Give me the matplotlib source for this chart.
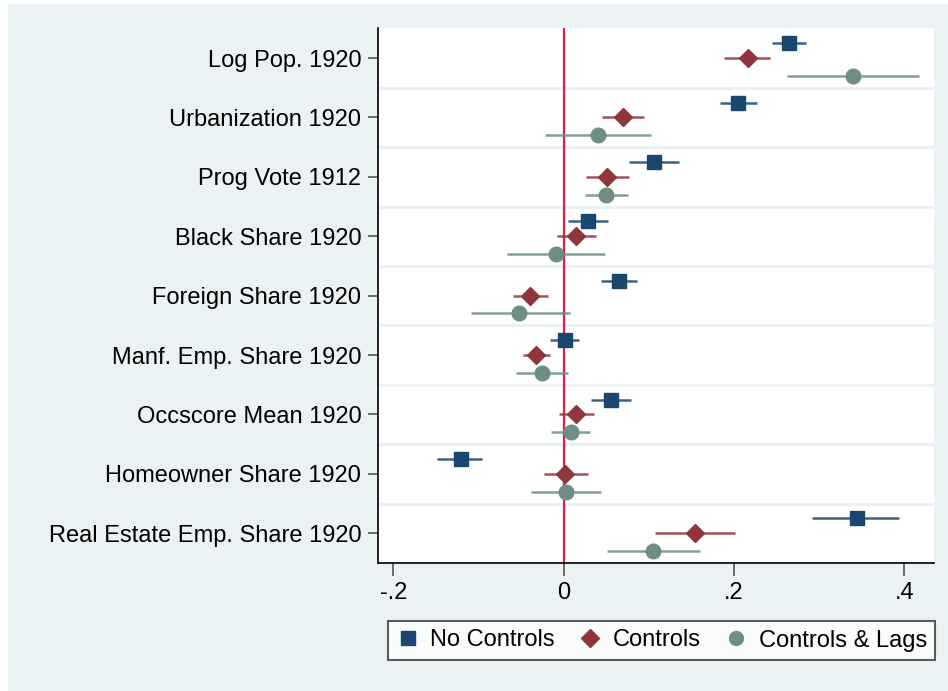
import matplotlib
matplotlib.use("Agg")
import matplotlib.pyplot as plt
import numpy as np
from matplotlib.patches import Rectangle

plt.rcParams['font.family'] = ['Liberation Sans', 'DejaVu Sans']

categories = ["Log Pop. 1920", "Urbanization 1920", "Prog Vote 1912", "Black Share 1920",
              "Foreign Share 1920", "Manf. Emp. Share 1920", "Occscore Mean 1920",
              "Homeowner Share 1920", "Real Estate Emp. Share 1920"]

series_names = ["No Controls", "Controls", "Controls & Lags"]

no_ctrl_est = [0.2645, 0.2045, 0.1055, 0.028, 0.065, 0.001, 0.0555, -0.121, 0.344]
no_ctrl_lo  = [0.245, 0.184, 0.0765, 0.005, 0.044, -0.016, 0.032, -0.149, 0.2915]
no_ctrl_hi  = [0.285, 0.2275, 0.135, 0.052, 0.086, 0.018, 0.079, -0.0955, 0.394]

ctrl_est = [0.2165, 0.070, 0.0512, 0.014, -0.039, -0.033, 0.015, 0.002, 0.154]
ctrl_lo  = [0.188, 0.0455, 0.0263, -0.008, -0.060, -0.048, -0.0055, -0.0235, 0.107]
ctrl_hi  = [0.2425, 0.0947, 0.0764, 0.038, -0.018, -0.016, 0.036, 0.028, 0.201]

lags_est = [0.340, 0.040, 0.0494, -0.009, -0.052, -0.026, 0.0085, 0.003, 0.1045]
lags_lo  = [0.2625, -0.0217, 0.0248, -0.066, -0.109, -0.056, -0.015, -0.038, 0.0505]
lags_hi  = [0.4175, 0.102, 0.0751, 0.048, 0.008, 0.005, 0.031, 0.044, 0.1605]

xticks = [-0.2, 0.0, 0.2, 0.4]
xtick_labels = ["-.2", "0", ".2", ".4"]

bg = "#EAF2F3"
colors = ["#1A476F", "#90353B", "#6E8E84"]
markers = ["s", "D", "o"]
msizes = [10, 9.5, 10.5]
offsets = [-0.25, 0.0, 0.30]

fig = plt.figure(figsize=(9.48, 6.91), dpi=100)
fig.patch.set_facecolor("white")
fig.patches.append(Rectangle((8/948, 0), 1 - 8/948, 1 - 4/691, transform=fig.transFigure,
                             facecolor=bg, edgecolor="none", zorder=-10))

ax = fig.add_axes([378/948, 1 - 563/691, (934 - 378)/948, (563 - 28.3)/691])
ax.set_facecolor("white")

y = np.arange(len(categories))
data = [(no_ctrl_est, no_ctrl_lo, no_ctrl_hi), (ctrl_est, ctrl_lo, ctrl_hi), (lags_est, lags_lo, lags_hi)]

for i in range(len(categories) - 1):
    ax.axhline(i + 0.5, color=bg, lw=2.2, zorder=1)

ax.axvline(0, color="#E0204A", lw=1.6, zorder=2)

handles = []
for k, (est, lo, hi) in enumerate(data):
    yy = y + offsets[k]
    ax.hlines(yy, lo, hi, color=colors[k], lw=1.8, alpha=0.85, zorder=3)
    h, = ax.plot(est, yy, linestyle="none", marker=markers[k], ms=msizes[k],
                 color=colors[k], mec=colors[k], zorder=4, label=series_names[k])
    handles.append(h)

ax.set_ylim(len(categories) - 0.5, -0.5)
ax.set_xlim(-0.218, 0.4348)
ax.set_yticks(y)
ax.set_yticklabels(categories, fontsize=17)
ax.set_xticks(xticks)
ax.set_xticklabels(xtick_labels, fontsize=17)

for s in ["top", "right"]:
    ax.spines[s].set_visible(False)
for s in ["left", "bottom"]:
    ax.spines[s].set_color("black")
    ax.spines[s].set_linewidth(1.2)

ax.tick_params(axis="y", length=7, width=1.2, color="#555555", pad=5)
ax.tick_params(axis="x", length=9, width=1.2, color="#555555", pad=5)

leg = fig.legend(handles=handles, loc="center", bbox_to_anchor=(661.5/948, 1 - 640.5/691), ncol=3,
                 frameon=True, fancybox=False, fontsize=17, handletextpad=0.45, columnspacing=1.0,
                 handlelength=1.0, borderpad=0.35, borderaxespad=0, markerscale=0.95)
leg.get_frame().set_edgecolor("#333333")
leg.get_frame().set_linewidth(1.5)

fig.savefig("out.png", dpi=100, facecolor=fig.get_facecolor())
